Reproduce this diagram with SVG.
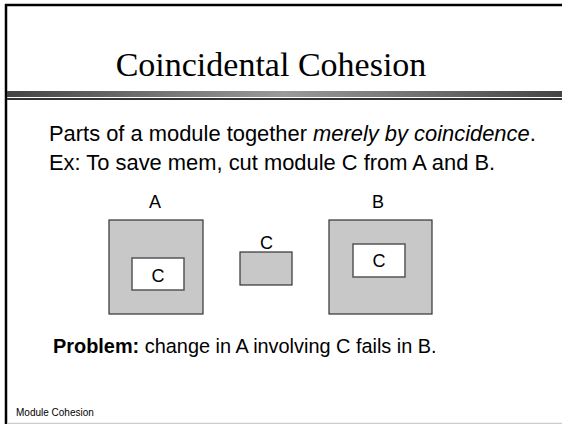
<svg xmlns="http://www.w3.org/2000/svg" width="562" height="424" viewBox="0 0 562 424">
<style>
.body{font-family:"Liberation Sans",Arial,sans-serif;font-size:21.9px;fill:#000}
.prob{font-family:"Liberation Sans",Arial,sans-serif;font-size:19.9px;fill:#000}
.lbl{font-family:"Liberation Sans",Arial,sans-serif;font-size:18px;fill:#000;text-anchor:middle}
.outer{fill:#c8c8c8;stroke:#333;stroke-width:1.2}
.inner{fill:#fff;stroke:#555;stroke-width:1.5}
</style>
<defs>
<linearGradient id="bar" x1="0" x2="1" y1="0" y2="0">
<stop offset="0" stop-color="#444"/>
<stop offset="0.5" stop-color="#9a9a9a"/>
<stop offset="1" stop-color="#444"/>
</linearGradient>
</defs>
<rect x="0" y="0" width="562" height="424" fill="#fff"/>
<line x1="5" y1="5" x2="562" y2="5" stroke="#000" stroke-width="2.5"/>
<line x1="6" y1="4" x2="6" y2="424" stroke="#000" stroke-width="2.5"/>
<rect x="7" y="91" width="555" height="6" fill="url(#bar)"/>
<rect x="7" y="98" width="555" height="2" fill="#333"/>
<line x1="7" y1="423.5" x2="562" y2="423.5" stroke="#ccc" stroke-width="1.5"/>
<text x="271" y="76" font-family="Liberation Serif,Times New Roman,serif" font-size="34" text-anchor="middle">Coincidental Cohesion</text>
<text class="body" x="49" y="141">Parts of a module together <tspan font-style="italic">merely by coincidence</tspan>.</text>
<text class="body" x="49" y="170">Ex: To save mem, cut module C from A and B.</text>
<g id="A">
<rect class="outer" x="109" y="220" width="94" height="94"/>
<text class="lbl" x="155" y="208">A</text>
</g>
<g id="A_C">
<rect class="inner" x="132" y="258" width="52" height="32"/>
<text class="lbl" x="158" y="282">C</text>
</g>
<g id="C">
<rect class="outer" x="240" y="252" width="52" height="33"/>
<text class="lbl" x="266.5" y="249">C</text>
</g>
<g id="B">
<rect class="outer" x="329" y="220" width="103" height="94"/>
<text class="lbl" x="378" y="208">B</text>
</g>
<g id="B_C">
<rect class="inner" x="353" y="244" width="52" height="33"/>
<text class="lbl" x="379" y="267">C</text>
</g>
<g id="connectors"/>
<text class="prob" x="53" y="353"><tspan font-weight="bold">Problem:</tspan> change in A involving C fails in B.</text>
<text x="16" y="416" font-family="Liberation Sans,Arial,sans-serif" font-size="10">Module Cohesion</text>
</svg>
